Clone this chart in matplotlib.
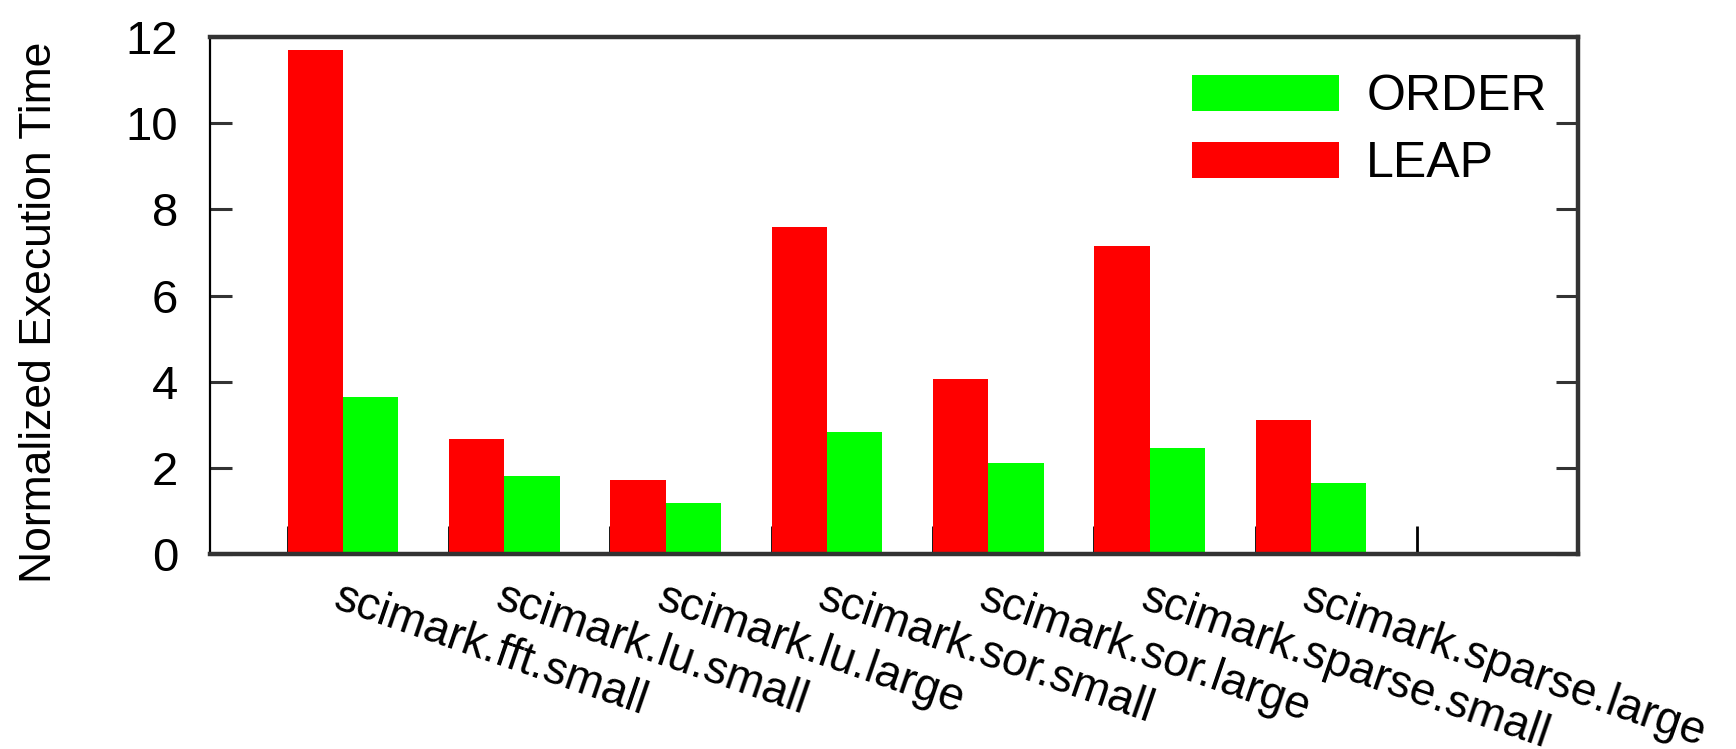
#Clustered bars: LEAP vs ORDER on scimark benchmarks
import numpy as np
import matplotlib
matplotlib.use("Agg")
import matplotlib.pyplot as plt

plt.rcParams['font.family'] = ['Liberation Sans', 'DejaVu Sans']

#data
benchmarks = ["scimark.fft.small", "scimark.lu.small", "scimark.lu.large",
              "scimark.sor.small", "scimark.sor.large", "scimark.sparse.small",
              "scimark.sparse.large"]
leap = [11.69, 2.67, 1.72, 7.58, 4.06, 7.14, 3.11]
order = [3.65, 1.80, 1.18, 2.83, 2.11, 2.47, 1.64]
yticks = [0, 2, 4, 6, 8, 10, 12]

x = np.arange(len(benchmarks) + 1)   # last slot stays empty
w = 0.343

fig = plt.figure(figsize=(17.36, 7.49), dpi=100)
ax = fig.add_axes([0.121, 0.2603, 0.788, 0.6903])

ax.bar(x[:len(leap)] - w / 2, leap, w, color="#ff0000", label="LEAP")
ax.bar(x[:len(order)] + w / 2, order, w, color="#00ff00", label="ORDER")

ax.set_xlim(-0.824, 7.654)
ax.set_ylim(0, 12)
ax.set_axisbelow(True)

#labels hang from cluster centre, tick marks sit at left edge of each cluster
ax.set_xticks(x[:len(benchmarks)])
ax.set_xticklabels(benchmarks, rotation=-19, ha="left", va="top",
                   rotation_mode="anchor", fontsize=33)
ax.tick_params(axis="x", which="major", length=0, pad=16)
ax.set_xticks(x - w, minor=True)
ax.tick_params(axis="x", which="minor", direction="in", length=20, width=2,
               color="black")

ax.set_yticks(yticks)
ax.tick_params(axis="y", direction="in", length=16, width=2.2, color="#333333",
               labelsize=34, pad=23, right=True)

for side in ["top", "right", "bottom"]:
    ax.spines[side].set_linewidth(3.2)
    ax.spines[side].set_color("#333333")
ax.spines["left"].set_linewidth(1.6)
ax.spines["left"].set_color("black")

ax.set_ylabel("Normalized Execution Time", fontsize=32)
ax.yaxis.set_label_coords(-0.110, 0.467)

h, l = ax.get_legend_handles_labels()
ax.legend(h[::-1], l[::-1], loc="upper right", bbox_to_anchor=(0.977, 0.928),
          frameon=False, fontsize=36, borderpad=0, borderaxespad=0,
          handlelength=2.94, handleheight=0.74, handletextpad=0.55,
          labelspacing=0.42)

fig.savefig("out.png", dpi=100)
